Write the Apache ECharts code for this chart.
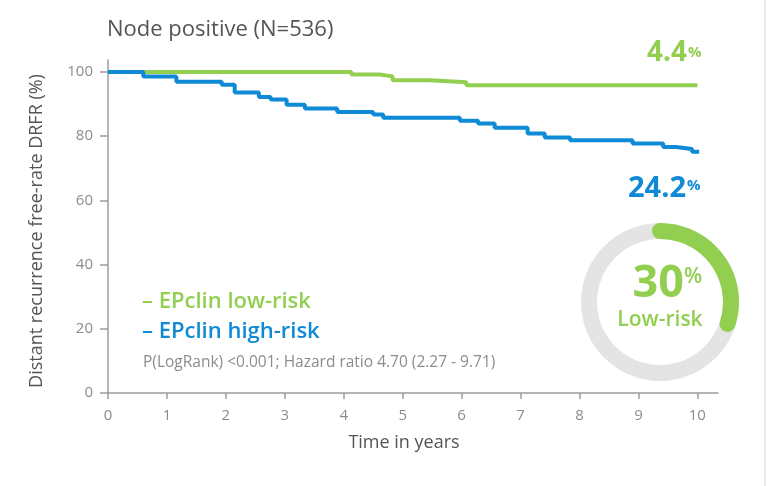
<!DOCTYPE html>
<html>
<head>
<meta charset="utf-8">
<script src="https://cdn.jsdelivr.net/npm/echarts@6/dist/echarts.min.js"></script>
<style>
  html, body { margin: 0; padding: 0; background: #fff; }
  #chart { width: 768px; height: 486px; }
</style>
</head>
<body>
<div id="chart"></div>
<script>
// KM curves: [time in years, DRFR %]
var lowRisk = [[0, 100], [4.13, 99.2], [4.61, 98.6], [4.83, 97.4], [5.46, 96.8], [6.08, 95.8], [10, 95.8]];
var highRisk = [
  [0, 100], [0.6, 98.6], [1.16, 96.9], [1.93, 96.0], [2.15, 93.6], [2.56, 92.2],
  [2.76, 91.4], [3.03, 89.8], [3.34, 88.6], [3.89, 87.5], [4.5, 86.7], [4.67, 85.7],
  [5.97, 84.8], [6.28, 83.9], [6.56, 82.6], [7.12, 80.8], [7.41, 79.6], [7.84, 78.7],
  [8.9, 77.7], [9.42, 76.6], [9.64, 76.0], [9.91, 75.1], [10.03, 75.1]
];
var xTicks = [0, 1, 2, 3, 4, 5, 6, 7, 8, 9, 10];
var yTicks = [0, 20, 40, 60, 80, 100];
var lowRiskShare = 30;   // % of patients classed low-risk
var lowRiskEvents = '4.4';
var highRiskEvents = '24.2';

var green = '#92cf50';
var blue = '#0e8ad6';
var font = '"Open Sans", sans-serif';

var myChart = echarts.init(document.getElementById('chart'));
var option = {
  animation: false,
  textStyle: { fontFamily: font },
  grid: { left: 108, right: 50, top: 60, bottom: 93 },
  xAxis: {
    type: 'value',
    min: 0,
    max: 10.35,
    axisLine: { lineStyle: { color: '#9c9c9c', width: 1.5 } },
    axisTick: { customValues: xTicks, length: 6, lineStyle: { color: '#9c9c9c', width: 1.5 } },
    axisLabel: { customValues: xTicks, color: '#8c8c8c', fontSize: 15, margin: 15, fontFamily: font },
    splitLine: { show: false }
  },
  yAxis: {
    type: 'value',
    min: 0,
    max: 103.7,
    axisLine: { show: true, lineStyle: { color: '#9c9c9c', width: 1.5 } },
    axisTick: { show: true, customValues: yTicks, length: 8, lineStyle: { color: '#9c9c9c', width: 1.5 } },
    axisLabel: { customValues: yTicks, color: '#8c8c8c', fontSize: 15, margin: 15, fontFamily: font },
    splitLine: { show: false }
  },
  series: [
    {
      name: 'EPclin low-risk',
      type: 'line',
      step: 'end',
      data: lowRisk,
      symbol: 'none',
      lineStyle: { color: green, width: 4 },
      z: 2
    },
    {
      name: 'EPclin high-risk',
      type: 'line',
      step: 'end',
      data: highRisk,
      symbol: 'none',
      lineStyle: { color: blue, width: 4 },
      z: 3
    },
    {
      // share of low-risk patients as a ring
      type: 'gauge',
      center: [660, 302],
      radius: 79,
      startAngle: 90,
      endAngle: -270,
      min: 0,
      max: 100,
      pointer: { show: false },
      axisTick: { show: false },
      splitLine: { show: false },
      axisLabel: { show: false },
      title: { show: false },
      detail: { show: false },
      axisLine: { lineStyle: { width: 16, color: [[1, '#e4e4e4']] } },
      progress: { show: true, width: 16, roundCap: true, itemStyle: { color: green } },
      data: [{ value: lowRiskShare }]
    }
  ],
  graphic: [
    { type: 'text', x: 107, y: 30, style: { text: 'Node positive (N=536)', fill: '#555', font: '22px ' + font, verticalAlign: 'middle' } },
    {
      type: 'text', x: 37, y: 231, rotation: Math.PI / 2,
      style: { text: 'Distant recurrence free-rate DRFR (%)', fill: '#555', font: '18px ' + font, align: 'center', verticalAlign: 'middle' }
    },
    { type: 'text', x: 404, y: 443, style: { text: 'Time in years', fill: '#555', font: '18px ' + font, align: 'center', verticalAlign: 'middle' } },
    { type: 'text', x: 142, y: 302, style: { text: '– EPclin low-risk', fill: green, font: '600 22px ' + font, verticalAlign: 'middle' } },
    { type: 'text', x: 142, y: 332, style: { text: '– EPclin high-risk', fill: blue, font: '600 22px ' + font, verticalAlign: 'middle' } },
    { type: 'text', x: 143, y: 363, style: { text: 'P(LogRank) <0.001; Hazard ratio 4.70 (2.27 - 9.71)', fill: '#8c8c8c', font: '15.5px ' + font, verticalAlign: 'middle' } },
    // 4.4%
    { type: 'text', x: 687, y: 67, style: { text: lowRiskEvents, fill: green, font: 'bold 28px ' + font, align: 'right', verticalAlign: 'bottom' } },
    { type: 'text', x: 688, y: 45, style: { text: '%', fill: green, font: 'bold 15px ' + font, align: 'left', verticalAlign: 'top' } },
    // 24.2%
    { type: 'text', x: 686, y: 203, style: { text: highRiskEvents, fill: blue, font: 'bold 29px ' + font, align: 'right', verticalAlign: 'bottom' } },
    { type: 'text', x: 687, y: 178, style: { text: '%', fill: blue, font: 'bold 15px ' + font, align: 'left', verticalAlign: 'top' } },
    // ring centre
    { type: 'text', x: 684, y: 307, style: { text: String(lowRiskShare), fill: green, font: 'bold 45px ' + font, align: 'right', verticalAlign: 'bottom' } },
    { type: 'text', x: 684, y: 267, style: { text: '%', fill: green, font: '600 21px ' + font, align: 'left', verticalAlign: 'top' } },
    { type: 'text', x: 660, y: 320, style: { text: 'Low-risk', fill: green, font: '600 21px ' + font, align: 'center', verticalAlign: 'middle' } },
    // right edge rule
    { type: 'rect', shape: { x: 764, y: 0, width: 2, height: 486 }, style: { fill: '#ececec' } }
  ]
};
myChart.setOption(option);
</script>
</body>
</html>
